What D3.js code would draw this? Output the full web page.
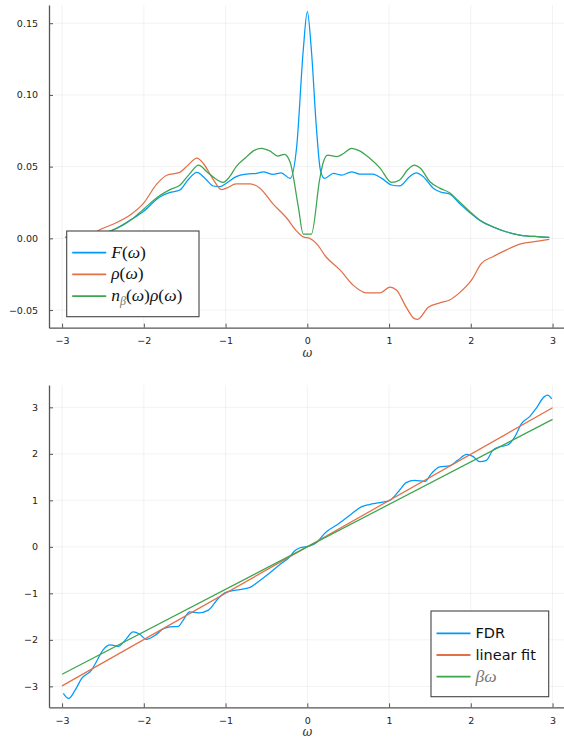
<!DOCTYPE html>
<html>
<head>
<meta charset="utf-8">
<script src="https://cdn.jsdelivr.net/npm/d3@7"></script>
<style>
  body { margin: 0; background: #fff; }
  .tick text { font-family: "DejaVu Sans", sans-serif; font-size: 9.5px; fill: #222; }
</style>
</head>
<body>
<svg id="chart" width="564" height="741"></svg>
<script>
// top panel: F(w), rho(w), n_beta(w) rho(w)
const fW = [-2.96, -2.84, -2.60, -2.41, -2.13, -2.01, -1.80, -1.68, -1.56, -1.46, -1.35, -1.25, -1.15, -1.07, -0.99, -0.87, -0.74, -0.62, -0.54, -0.42, -0.32, -0.21, -0.13, -0.05, 0, 0.05, 0.11, 0.16, 0.21, 0.32, 0.42, 0.54, 0.64, 0.80, 0.91, 1.03, 1.13, 1.25, 1.33, 1.42, 1.54, 1.62, 1.74, 1.86, 1.99, 2.11, 2.27, 2.43, 2.60, 2.84, 2.96];
const fV = [0.0007, 0.0011, 0.0023, 0.005, 0.014, 0.0186, 0.029, 0.032, 0.0337, 0.0407, 0.046, 0.0418, 0.0365, 0.036, 0.0384, 0.043, 0.0448, 0.0453, 0.0464, 0.0446, 0.0457, 0.0418, 0.064, 0.131, 0.158, 0.131, 0.078, 0.0476, 0.0418, 0.0453, 0.0441, 0.0464, 0.0448, 0.0448, 0.0418, 0.0372, 0.0365, 0.043, 0.0457, 0.043, 0.035, 0.0325, 0.0309, 0.0244, 0.0179, 0.0125, 0.008, 0.0046, 0.0023, 0.0011, 0.0007];

const rhoW = [-2.96, -2.76, -2.60, -2.54, -2.37, -2.15, -2.01, -1.84, -1.72, -1.56, -1.46, -1.35, -1.27, -1.15, -1.05, -0.99, -0.87, -0.70, -0.58, -0.42, -0.25, -0.13, -0.05, 0.03, 0.11, 0.23, 0.40, 0.56, 0.72, 0.89, 1.01, 1.09, 1.21, 1.31, 1.35, 1.48, 1.62, 1.74, 1.86, 2.01, 2.13, 2.27, 2.43, 2.60, 2.76, 2.96];
const rhoV = [0.0007, 0.0024, 0.004, 0.006, 0.010, 0.017, 0.024, 0.038, 0.044, 0.046, 0.051, 0.056, 0.052, 0.041, 0.034, 0.035, 0.038, 0.038, 0.035, 0.024, 0.014, 0.005, 0.001, 0, -0.0035, -0.013, -0.022, -0.0326, -0.038, -0.038, -0.034, -0.036, -0.048, -0.056, -0.0565, -0.048, -0.045, -0.043, -0.038, -0.029, -0.0175, -0.0128, -0.0082, -0.004, -0.0024, -0.0007];

const nrW = [-2.96, -2.84, -2.60, -2.41, -2.13, -2.01, -1.80, -1.68, -1.56, -1.44, -1.33, -1.23, -1.11, -1.03, -0.95, -0.87, -0.74, -0.66, -0.56, -0.46, -0.36, -0.28, -0.21, -0.11, -0.05, 0.05, 0.15, 0.19, 0.25, 0.36, 0.44, 0.54, 0.64, 0.76, 0.89, 1.03, 1.13, 1.23, 1.31, 1.38, 1.50, 1.62, 1.74, 1.86, 1.99, 2.11, 2.27, 2.43, 2.60, 2.84, 2.96];
const nrV = [0.0007, 0.0011, 0.0023, 0.005, 0.014, 0.020, 0.030, 0.034, 0.037, 0.045, 0.051, 0.0465, 0.041, 0.039, 0.043, 0.050, 0.057, 0.061, 0.0628, 0.061, 0.0574, 0.0586, 0.053, 0.022, 0.003, 0.003, 0.0407, 0.052, 0.058, 0.057, 0.059, 0.0628, 0.061, 0.056, 0.049, 0.039, 0.0407, 0.048, 0.051, 0.049, 0.0395, 0.035, 0.0318, 0.0255, 0.0186, 0.0128, 0.0081, 0.0046, 0.0023, 0.0011, 0.0007];

// bottom panel: FDR, linear fit, beta*w
const fdrW = [-2.985, -2.92, -2.84, -2.76, -2.64, -2.58, -2.50, -2.41, -2.31, -2.23, -2.13, -2.05, -1.97, -1.86, -1.76, -1.68, -1.58, -1.52, -1.44, -1.33, -1.21, -1.09, -1.01, -0.87, -0.70, -0.60, -0.48, -0.32, -0.23, -0.15, -0.09, 0.03, 0.11, 0.23, 0.36, 0.52, 0.66, 0.76, 0.89, 1.01, 1.11, 1.21, 1.31, 1.44, 1.52, 1.62, 1.74, 1.84, 1.95, 2.03, 2.11, 2.19, 2.27, 2.35, 2.45, 2.54, 2.62, 2.72, 2.80, 2.90, 2.94, 2.99];
const fdrV = [-3.15, -3.26, -3.08, -2.83, -2.65, -2.47, -2.22, -2.11, -2.14, -2.01, -1.83, -1.88, -1.99, -1.90, -1.76, -1.72, -1.71, -1.58, -1.40, -1.42, -1.36, -1.11, -0.99, -0.93, -0.87, -0.75, -0.59, -0.36, -0.24, -0.08, -0.02, 0.02, 0.09, 0.32, 0.47, 0.68, 0.86, 0.91, 0.95, 1.00, 1.18, 1.38, 1.43, 1.41, 1.58, 1.72, 1.74, 1.86, 1.99, 1.94, 1.83, 1.86, 2.08, 2.15, 2.19, 2.37, 2.65, 2.80, 2.98, 3.23, 3.26, 3.18];
const fitW = [-3, 3];
const fitV = [-2.99, 2.99];
const betaV = [-2.74, 2.74];

const xTicks = [-3, -2, -1, 0, 1, 2, 3];
const topTicks = [-0.05, 0, 0.05, 0.10, 0.15];
const botTicks = [-3, -2, -1, 0, 1, 2, 3];

const blue = "#009AFA", orange = "#E36F47", green = "#3EA44E";
const svg = d3.select("#chart");
const minus = s => s.replace("-", "\u2212");

function panel(o) {
  const x = d3.scaleLinear().domain([-3.16, 3.14]).range([49, 564]);
  const y = d3.scaleLinear().domain(o.ydom).range(o.yrange);
  const g = svg.append("g");

  // grid
  g.selectAll(".vg").data(xTicks).enter().append("line")
    .attr("x1", d => x(d)).attr("x2", d => x(d))
    .attr("y1", o.yrange[1]).attr("y2", o.yrange[0])
    .attr("stroke", "#000").attr("stroke-opacity", 0.09).attr("stroke-width", 0.6);
  g.selectAll(".hg").data(o.yticks).enter().append("line")
    .attr("x1", 49).attr("x2", 564)
    .attr("y1", d => y(d)).attr("y2", d => y(d))
    .attr("stroke", "#000").attr("stroke-opacity", 0.09).attr("stroke-width", 0.6);

  // lines
  o.series.forEach(s => {
    const line = d3.line().x(d => x(d[0])).y(d => y(d[1])).curve(d3.curveMonotoneX);
    g.append("path").datum(d3.zip(s.w, s.v))
      .attr("fill", "none").attr("stroke", s.color).attr("stroke-width", 1.25)
      .attr("stroke-linejoin", "round").attr("d", line);
  });

  // axes
  const xa = g.append("g").attr("transform", `translate(0,${o.yrange[0]})`)
    .call(d3.axisBottom(x).tickValues(xTicks).tickSize(-4).tickSizeOuter(0).tickPadding(10)
      .tickFormat(d => minus(String(d))));
  const ya = g.append("g").attr("transform", "translate(49,0)")
    .call(d3.axisLeft(y).tickValues(o.yticks).tickSize(-4).tickSizeOuter(0).tickPadding(11)
      .tickFormat(d => minus(o.fmt(d))));
  [xa, ya].forEach(a => {
    a.select(".domain").attr("stroke", "#555").attr("stroke-width", 1.3);
    a.selectAll(".tick line").attr("stroke", "#555").attr("stroke-width", 1);
  });

  g.append("text").attr("x", x(0)).attr("y", o.yrange[0] + 29)
    .attr("text-anchor", "middle").attr("font-family", "'DejaVu Serif', serif")
    .attr("font-style", "italic").attr("font-size", 12).attr("fill", "#333").text("ω");

  // legend
  const L = o.legend;
  g.append("rect").attr("x", L.x).attr("y", L.y).attr("width", L.w).attr("height", L.h)
    .attr("fill", "#fff").attr("stroke", "#444").attr("stroke-width", 1.1);
  o.series.forEach((s, i) => {
    const ry = L.row0 + i * 21.7;
    g.append("line").attr("x1", L.x + 5.5).attr("x2", L.x + 39.5).attr("y1", ry).attr("y2", ry)
      .attr("stroke", s.color).attr("stroke-width", 1.8);
    const t = g.append("text").attr("x", L.x + 44.5).attr("y", ry + 5).attr("fill", "#111");
    s.label(t);
  });
}

const serif = "'Liberation Serif', 'DejaVu Serif', serif";
function mathLabel(parts) {
  return t => {
    t.attr("font-family", serif).attr("font-size", 17.5);
    parts.forEach(p => {
      const sp = t.append("tspan").text(p[0]);
      if (p[1] === "i") sp.attr("font-style", "italic");
      if (p[1] === "sub") sp.attr("font-style", "italic").attr("font-size", 12).attr("dy", 4).attr("fill", "#777");
      if (p[1] === "up") sp.attr("dy", -4);
    });
  };
}
function sansLabel(str) {
  return t => t.attr("font-family", "'DejaVu Sans', sans-serif").attr("font-size", 14.5).text(str);
}

panel({
  ydom: [-0.0623, 0.1627], yrange: [327.7, 5], yticks: topTicks,
  fmt: d => d3.format(".2f")(d),
  series: [
    { w: fW, v: fV, color: blue, label: mathLabel([["F", "i"], ["(", ""], ["ω", "i"], [")", ""]]) },
    { w: rhoW, v: rhoV, color: orange, label: mathLabel([["ρ", "i"], ["(", ""], ["ω", "i"], [")", ""]]) },
    { w: nrW, v: nrV, color: green, label: mathLabel([["n", "i"], ["β", "sub"], ["(", "up"], ["ω", "i"], [")", ""], ["ρ", "i"], ["(", ""], ["ω", "i"], [")", ""]]) }
  ],
  legend: { x: 66.7, y: 231, w: 132.3, h: 85.7, row0: 252.7 }
});

panel({
  ydom: [-3.45, 3.48], yrange: [707.3, 385], yticks: botTicks,
  fmt: d => String(d),
  series: [
    { w: fdrW, v: fdrV, color: blue, label: sansLabel("FDR") },
    { w: fitW, v: fitV, color: orange, label: sansLabel("linear fit") },
    { w: fitW, v: betaV, color: green, label: t => {
        t.attr("font-family", serif).attr("font-size", 17.5).attr("font-style", "italic").attr("fill", "#777").text("βω");
      } }
  ],
  legend: { x: 431, y: 611, w: 117.7, h: 85.7, row0: 633.3 }
});
</script>
</body>
</html>
